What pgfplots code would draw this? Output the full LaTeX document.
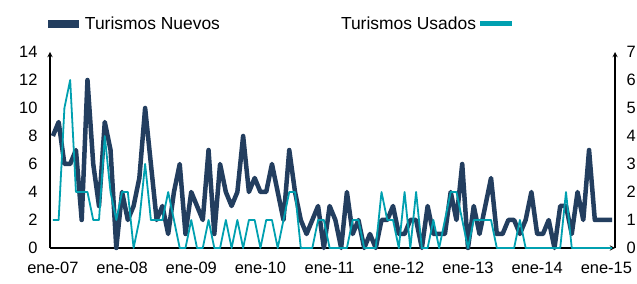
\documentclass[border=0pt]{standalone}
\usepackage{fontspec}
\setmainfont{Liberation Sans}
\usepackage{pgfplots}
\usepackage{pgfplotstable}
\pgfplotsset{compat=1.18}
\definecolor{navy}{RGB}{35,62,95}
\definecolor{tealc}{RGB}{0,160,176}

\pgfplotstableread{
i v
0 8
1 9
2 6
3 6
4 7
5 2
6 12
7 6
8 3
9 9
10 7
11 0
12 4
13 2
14 3
15 5
16 10
17 6
18 2
19 3
20 1
21 4
22 6
23 1
24 4
25 3
26 2
27 7
28 1
29 6
30 4
31 3
32 4
33 8
34 4
35 5
36 4
37 4
38 6
39 4
40 2
41 7
42 4
43 2
44 1
45 2
46 3
47 0
48 3
49 2
50 0
51 4
52 1
53 2
54 0
55 1
56 0
57 2
58 2
59 3
60 1
61 1
62 2
63 2
64 0
65 3
66 1
67 1
68 1
69 4
70 2
71 6
72 0
73 3
74 1
75 3
76 5
77 1
78 1
79 2
80 2
81 1
82 2
83 4
84 1
85 1
86 2
87 0
88 3
89 3
90 1
91 4
92 2
93 7
94 2
95 2
96 2
97 2
}\nuevos

\pgfplotstableread{
i v
0 1
1 1
2 5
3 6
4 2
5 2
6 2
7 1
8 1
9 4
10 2
11 1
12 2
13 2
14 0
15 1
16 3
17 1
18 1
19 1
20 2
21 1
22 0
23 0
24 1
25 0
26 0
27 1
28 0
29 0
30 1
31 0
32 1
33 0
34 1
35 1
36 0
37 1
38 1
39 0
40 1
41 2
42 2
43 0
44 0
45 0
46 1
47 1
48 0
49 0
50 0
51 0
52 1
53 1
54 0
55 0
56 0
57 2
58 1
59 1
60 0
61 2
62 0
63 2
64 0
65 0
66 1
67 0
68 1
69 2
70 2
71 1
72 0
73 1
74 1
75 1
76 1
77 0
78 0
79 0
80 0
81 1
82 0
83 0
84 0
85 0
86 0
87 0
88 0
89 2
90 0
91 0
92 0
93 0
94 0
95 0
96 0
97 0
}\usados

\begin{document}
\begin{tikzpicture}
\pgfplotsset{every axis/.append style={
  scale only axis, width=565bp, height=196bp,
  xmin=-0.5, xmax=97.5, clip=false,
  major tick length=0pt,
  /pgf/number format/assume math mode=true,
  tick label style={font=\fontsize{16.5}{18}\selectfont, black},
  axis line style={-, black, line width=1.3bp},
  legend style={draw=none, fill=none, inner sep=0pt, outer sep=0pt,
    font=\fontsize{17.5}{20}\selectfont},
}}
\begin{axis}[
  at={(0,0)}, anchor=south west,
  ymin=0, ymax=14, ytick={0,2,...,14},
  axis x line=bottom, axis y line=left,
  xtick={0,12,...,96},
  xticklabels={ene-07,ene-08,ene-09,ene-10,ene-11,ene-12,ene-13,ene-14,ene-15},
  xticklabel style={yshift=-11bp},
  yticklabel style={xshift=-9bp},
  legend style={at={(axis description cs:-0.0106,1.143)}, anchor=west},
  legend image code/.code={\draw[#1, line width=8bp] (0bp,0bp) -- (31bp,0bp);},
]
\addplot[navy, line width=4.5bp, line join=round] table[x=i,y=v]{\nuevos};
\addlegendentry{Turismos Nuevos}
\end{axis}
\begin{axis}[
  at={(0,0)}, anchor=south west,
  ymin=0, ymax=7, ytick={0,1,...,7},
  axis x line=none, axis y line=right,
  xtick=\empty,
  yticklabel style={xshift=8bp},
  legend plot pos=right,
  legend style={at={(axis description cs:0.823,1.143)}, anchor=east},
  legend image code/.code={\draw[#1, line width=5bp] (0bp,0bp) -- (32bp,0bp);},
]
\addplot[tealc, line width=1.8bp, line join=round] table[x=i,y=v]{\usados};
\addlegendentry{Turismos Usados}
\end{axis}
\pgfresetboundingbox
\path[use as bounding box] (-50bp,-36bp) rectangle (587bp,248bp);
\end{tikzpicture}
\end{document}
